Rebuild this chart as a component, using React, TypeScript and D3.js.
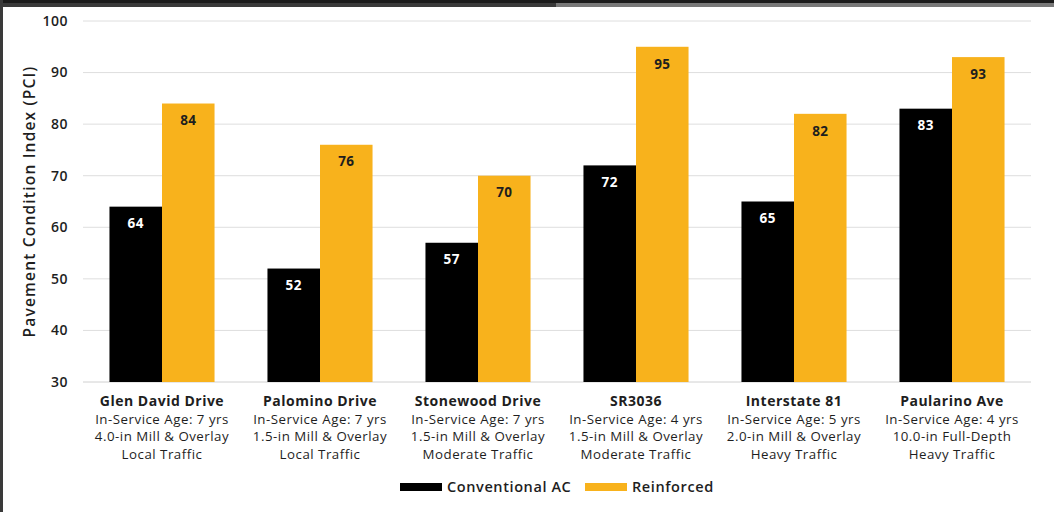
import React from "react";
import * as d3 from "d3";

const categories = ["Glen David Drive", "Palomino Drive", "Stonewood Drive", "SR3036", "Interstate 81", "Paularino Ave"];
const subLabels = [
  ["In-Service Age: 7 yrs", "4.0-in Mill & Overlay", "Local Traffic"],
  ["In-Service Age: 7 yrs", "1.5-in Mill & Overlay", "Local Traffic"],
  ["In-Service Age: 7 yrs", "1.5-in Mill & Overlay", "Moderate Traffic"],
  ["In-Service Age: 4 yrs", "1.5-in Mill & Overlay", "Moderate Traffic"],
  ["In-Service Age: 5 yrs", "2.0-in Mill & Overlay", "Heavy Traffic"],
  ["In-Service Age: 4 yrs", "10.0-in Full-Depth", "Heavy Traffic"],
];
const conventional = [64, 52, 57, 72, 65, 83];
const reinforced = [84, 76, 70, 95, 82, 93];
const seriesNames = ["Conventional AC", "Reinforced"];
const yTicks = [30, 40, 50, 60, 70, 80, 90, 100];

const W = 1054;
const H = 512;
const FONT = "'Open Sans', 'Noto Sans', sans-serif";
const BLACK = "#000000";
const ORANGE = "#F8B21C";
const TEXT = "#1e1e1e";

export default function App() {
  const x = d3.scaleBand<string>().domain(categories).range([83, 1031]).paddingInner(0.335).paddingOuter(0.1675);
  const y = d3.scaleLinear().domain([30, 100]).range([382, 21]);
  const bw = x.bandwidth() / 2;
  const series = [
    { name: seriesNames[0], values: conventional, color: BLACK, label: "#ffffff" },
    { name: seriesNames[1], values: reinforced, color: ORANGE, label: TEXT },
  ];
  return (
    <svg width={W} height={H} style={{ position: "absolute", left: 0, top: 0, background: "#fff" }} fontFamily={FONT}>
      {/* frame */}
      <rect x={0} y={0} width={W} height={3} fill="#1b1b1b" />
      <rect x={0} y={3} width={556} height={4} fill="#3a3a3a" />
      <rect x={556} y={3} width={W - 556} height={4} fill="#787878" />
      <rect x={0} y={0} width={3} height={H} fill="#3a3a3a" />

      {/* gridlines */}
      {yTicks.map((t) => (
        <g key={t}>
          <line x1={83} x2={1031} y1={y(t)} y2={y(t)} stroke={t === 30 ? "#d0d0d0" : "#dedede"} strokeWidth={1} />
          <text x={68} y={y(t)} dy="0.35em" textAnchor="end" fontSize={14} fill={TEXT} fontWeight={600} letterSpacing={0.5}>
            {t}
          </text>
        </g>
      ))}

      {/* axis title */}
      <text
        transform={`translate(30, ${y(65)}) rotate(-90)`}
        textAnchor="middle"
        dy="0.35em"
        fontSize={15.5}
        fill={TEXT}
        fontWeight={600}
        letterSpacing={1.2}
      >
        Pavement Condition Index (PCI)
      </text>

      {/* bars */}
      {series.map((s, si) => (
        <g key={s.name}>
          {categories.map((c, i) => {
            const bx = (x(c) ?? 0) + si * bw;
            const top = y(s.values[i]);
            return (
              <g key={c}>
                <rect x={bx} y={top} width={bw} height={y(30) - top} fill={s.color} />
                <text
                  x={bx + bw / 2}
                  y={top + 17}
                  dy="0.35em"
                  textAnchor="middle"
                  fontSize={13.5}
                  fontWeight={700}
                  letterSpacing={0.4}
                  fill={s.label}
                >
                  {s.values[i]}
                </text>
              </g>
            );
          })}
        </g>
      ))}

      {/* category labels */}
      {categories.map((c, i) => {
        const cx = (x(c) ?? 0) + x.bandwidth() / 2;
        return (
          <g key={c}>
            <text x={cx} y={401} dy="0.35em" textAnchor="middle" fontSize={14} fontWeight={700} fill={TEXT} letterSpacing={0.5}>
              {c}
            </text>
            {subLabels[i].map((l, j) => (
              <text key={j} x={cx} y={419 + j * 17.5} dy="0.35em" textAnchor="middle" fontSize={13.3} fill={TEXT} letterSpacing={0.5}>
                {l}
              </text>
            ))}
          </g>
        );
      })}

      {/* legend */}
      <rect x={400} y={483} width={42} height={8} fill={BLACK} />
      <text x={447} y={487} dy="0.35em" fontSize={14.5} fontWeight={600} fill={TEXT} letterSpacing={0.6}>
        {seriesNames[0]}
      </text>
      <rect x={585} y={483} width={42} height={8} fill={ORANGE} />
      <text x={632} y={487} dy="0.35em" fontSize={14.5} fontWeight={600} fill={TEXT} letterSpacing={0.6}>
        {seriesNames[1]}
      </text>
    </svg>
  );
}
